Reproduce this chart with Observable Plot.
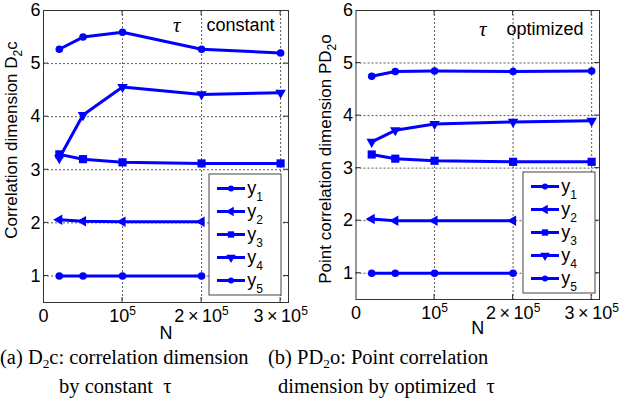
<!DOCTYPE html>
<html><head><meta charset="utf-8">
<script src="https://cdn.jsdelivr.net/npm/d3@7"></script>
<script src="https://cdn.jsdelivr.net/npm/@observablehq/plot@0.6"></script>
<style>
body{margin:0;background:#fff;}
#wrap{position:relative;width:627px;height:401px;overflow:hidden;background:#fff;}
.panel{position:absolute;top:0;}
.cap{position:absolute;font-family:"Liberation Serif","Times New Roman",serif;font-size:20.5px;line-height:24px;white-space:pre;color:#000;}
.cap sub{font-size:0.65em;vertical-align:-0.3em;line-height:0;}
</style></head><body>
<div id="wrap">
  <div id="pa" class="panel" style="left:0px"></div>
  <div id="pb" class="panel" style="left:310px"></div>
  <div class="cap" style="left:0px;top:345px">(a) D<sub>2</sub>c: correlation dimension</div>
  <div class="cap" style="left:59px;top:374px">by constant  τ</div>
  <div class="cap" style="left:268px;top:345px">(b) PD<sub>2</sub>o: Point correlation</div>
  <div class="cap" style="left:278px;top:374px">dimension by optimized  τ</div>
</div>
<script>
// ---- data ----
const N = [20000, 50000, 100000, 200000, 300000];
const seriesNames = ["y1", "y2", "y3", "y4", "y5"];
// (a) constant tau
const constY1 = [1.00, 1.00, 1.00, 1.00];
const constY2 = [2.06, 2.03, 2.02, 2.02];
const constY3 = [3.29, 3.20, 3.14, 3.12, 3.12];
const constY4 = [3.22, 4.03, 4.56, 4.42, 4.45];
const constY5 = [5.27, 5.50, 5.59, 5.27, 5.20];
// (b) optimized tau
const optY1 = [1.00, 1.00, 1.00, 1.00];
const optY2 = [2.03, 2.00, 2.00, 2.00];
const optY3 = [3.26, 3.18, 3.14, 3.12, 3.12];
const optY4 = [3.50, 3.72, 3.84, 3.88, 3.90];
const optY5 = [4.75, 4.84, 4.85, 4.84, 4.85];
// ticks
const xTicks = [0, 100000, 200000, 300000];
const xTickLabels = ["0", "10^5", "2\u2009\u00d7\u200910^5", "3\u2009\u00d7\u200910^5"];
const yTicks = [1, 2, 3, 4, 5, 6];
const yTickLabels = ["1", "2", "3", "4", "5", "6"];

const blue = "#0000ff";
const markers = {
  y1: {symbol: "circle", r: 3.8, rotate: 0, d3s: d3.symbolCircle},
  y2: {symbol: "triangle", r: 3.9, rotate: -90, d3s: d3.symbolTriangle},
  y3: {symbol: "square", r: 4.6, rotate: 0, d3s: d3.symbolSquare},
  y4: {symbol: "triangle", r: 3.9, rotate: 180, d3s: d3.symbolTriangle},
  y5: {symbol: "circle", r: 3.8, rotate: 0, d3s: d3.symbolCircle}
};

function panel(el, values, o) {
  const rows = [];
  seriesNames.forEach((s, k) => values[k].forEach((v, i) => rows.push({series: s, N: N[i], value: v})));
  const grid = {stroke: "#333", strokeOpacity: 1, strokeWidth: 0.8, strokeDasharray: "2,2"};
  const plot = Plot.plot({
    width: o.width, height: 340,
    marginLeft: o.ml, marginRight: o.mr, marginTop: 10, marginBottom: o.mb,
    style: {fontFamily: "'Liberation Sans', Arial, sans-serif", fontSize: "18px", background: "transparent", overflow: "visible", color: "#000"},
    x: {domain: [0, 310000]},
    y: {domain: [0.5, 6]},
    marks: [
      Plot.gridX({ticks: xTicks.slice(1), ...grid}),
      Plot.gridY({ticks: yTicks.slice(0, -1), ...grid}),
      Plot.axisX({ticks: xTicks, tickSize: 0, tickPadding: 7, tickFormat: d => xTickLabels[xTicks.indexOf(d)], label: null}),
      Plot.axisY({ticks: yTicks, tickSize: 0, tickPadding: 3, tickFormat: d => yTickLabels[yTicks.indexOf(d)], label: null}),
      Plot.line(rows, {x: "N", y: "value", z: "series", stroke: blue, strokeWidth: 3}),
      ...seriesNames.map(s => Plot.dot(rows.filter(r => r.series === s), {
        x: "N", y: "value", symbol: markers[s].symbol, r: markers[s].r, rotate: markers[s].rotate, fill: blue, stroke: "none"
      })),
      Plot.frame({stroke: "#333"}),
      Plot.text(["N"], {text: d => d, frameAnchor: "bottom", lineAnchor: "middle", dy: o.ndy, fontSize: 18}),
      Plot.text([o.note], {text: d => d, frameAnchor: "top-right", lineAnchor: "middle", textAnchor: "end", dx: o.noteDx, dy: o.noteDy, fontSize: 18}),
      Plot.text(["\u03c4"], {text: d => d, frameAnchor: "top-right", lineAnchor: "middle", dx: o.tauDx, dy: o.noteDy, fontSize: 21, fontStyle: "italic", fontFamily: "'Liberation Serif', serif"})
    ]
  });
  const svg = d3.select(plot);
  // superscripts on x tick labels
  svg.selectAll('g[aria-label="x-axis tick label"] text').each(function () {
    const t = this.textContent;
    if (t.includes("^")) {
      const [b, e] = t.split("^");
      const sel = d3.select(this);
      sel.text(null);
      sel.append("tspan").text(b);
      sel.append("tspan").attr("dy", -7).attr("font-size", 12).text(e);
    }
  });
  const sx = plot.scale("x"), sy = plot.scale("y");
  const L = sx.apply(0), R = sx.apply(310000), T = sy.apply(6), B = sy.apply(0.5);
  // inward ticks on all four sides
  const tk = svg.append("g").attr("stroke", "#333").attr("stroke-width", 1);
  xTicks.slice(1).forEach(v => {
    const X = sx.apply(v);
    tk.append("line").attr("x1", X).attr("x2", X).attr("y1", B).attr("y2", B - 5);
    tk.append("line").attr("x1", X).attr("x2", X).attr("y1", T).attr("y2", T + 5);
  });
  yTicks.slice(0, -1).forEach(v => {
    const Y = sy.apply(v);
    tk.append("line").attr("x1", L).attr("x2", L + 5).attr("y1", Y).attr("y2", Y);
    tk.append("line").attr("x1", R).attr("x2", R - 5).attr("y1", Y).attr("y2", Y);
  });
  // y-axis label with subscript
  const yl = svg.append("text")
    .attr("transform", `translate(${o.ylx},${o.yly}) rotate(-90)`)
    .attr("text-anchor", "middle").attr("font-size", 17).attr("fill", "#000");
  yl.append("tspan").text(o.ylabel[0]);
  yl.append("tspan").attr("dy", 5).attr("font-size", 12).text("2");
  yl.append("tspan").attr("dy", -5).text(o.ylabel[1]);
  // legend
  const lg = svg.append("g").attr("transform", `translate(${R - o.lgR - 72},${B - o.lgB - 121})`);
  lg.append("rect").attr("width", 72).attr("height", 121).attr("fill", "#fff").attr("stroke", "#444").attr("stroke-width", 1);
  const lsize = {y1: 28, y2: 40, y3: 40, y4: 40, y5: 28};
  seriesNames.forEach((s, i) => {
    const yy = 14.5 + i * 23;
    lg.append("line").attr("x1", 8).attr("x2", 36).attr("y1", yy).attr("y2", yy).attr("stroke", blue).attr("stroke-width", 3);
    lg.append("path").attr("d", d3.symbol(markers[s].d3s, lsize[s])())
      .attr("transform", `translate(22,${yy}) rotate(${markers[s].rotate})`).attr("fill", blue);
    const t = lg.append("text").attr("x", 46).attr("y", yy + 5).attr("font-size", 18).attr("fill", "#000");
    t.append("tspan").text("y");
    t.append("tspan").attr("dy", 7).attr("font-size", 12).text(s.slice(1));
  });
  document.getElementById(el).appendChild(plot);
}

panel("pa", [constY1, constY2, constY3, constY4, constY5], {
  width: 310, ml: 43, mr: 22, mb: 38, ndy: 31,
  note: "constant", noteDx: -14, noteDy: 15, tauDx: -108,
  ylabel: ["Correlation dimension D", "c"], ylx: 17, yly: 140, lgR: 7, lgB: 7
});
panel("pb", [optY1, optY2, optY3, optY4, optY5], {
  width: 317, ml: 45.5, mr: 28, mb: 41, ndy: 29,
  note: "optimized", noteDx: -16, noteDy: 19, tauDx: -113,
  ylabel: ["Point correlation dimension PD", "o"], ylx: 21, yly: 159, lgR: 4, lgB: 6
});
</script>
</body></html>
